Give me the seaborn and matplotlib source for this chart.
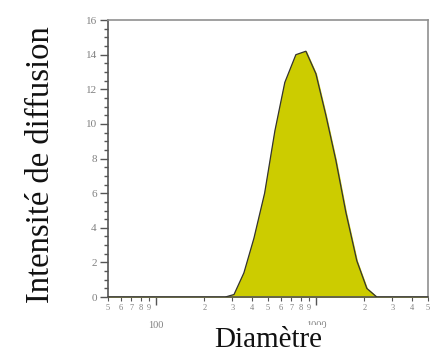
import numpy as np
import pandas as pd
import seaborn as sns
import matplotlib.pyplot as plt
from matplotlib.ticker import FixedLocator, FixedFormatter

# diamètre (nm) et intensité de diffusion
diametre = [50, 100, 200, 270, 307, 354, 409, 477, 553, 638, 748, 864,
            998, 1152, 1330, 1536, 1798, 2078, 2400, 3000, 5000]
intensite = [0, 0, 0, 0, 0.15, 1.4, 3.4, 6.0, 9.6, 12.4, 14.0, 14.2,
             12.9, 10.5, 7.9, 4.9, 2.1, 0.5, 0, 0, 0]

y_major = [0, 2, 4, 6, 8, 10, 12, 14, 16]
x_major = [100, 1000]
x_minor = [50, 60, 70, 80, 90, 200, 300, 400, 500, 600, 700, 800, 900,
           2000, 3000, 4000, 5000]
x_minor_labels = ['5', '6', '7', '8', '9', '2', '3', '4', '5', '6', '7',
                  '8', '9', '2', '3', '4', '5']

df = pd.DataFrame({'d': diametre, 'I': intensite})

sns.set_theme(style='white')
plt.rcParams['font.family'] = ['Liberation Serif', 'DejaVu Serif']

fig = plt.figure(figsize=(4.37, 3.52), dpi=100)
ax = fig.add_axes([0.247, 0.156, 0.732, 0.787])

ax.fill_between(df['d'], df['I'], 0, color='#cccc00', zorder=2)
sns.lineplot(data=df, x='d', y='I', ax=ax, color='#333333', lw=0.9, zorder=3)

ax.set_xscale('log')
ax.set_xlim(50, 5000)
ax.set_ylim(0, 16)

gris = '#808080'
for s in ax.spines.values():
    s.set_color('#909090')
    s.set_linewidth(1.2)
ax.spines['left'].set_color('#555555')
ax.spines['bottom'].set_color('#555555')

ax.yaxis.set_major_locator(FixedLocator(y_major))
ax.yaxis.set_minor_locator(FixedLocator(np.arange(0, 16.01, 0.5)))
ax.tick_params(axis='y', which='major', left=True, direction='out', length=6,
               width=1, color='#555555', labelsize=8, labelcolor=gris, pad=2)
ax.tick_params(axis='y', which='minor', left=True, direction='out', length=3,
               width=1, color='#555555')

ax.xaxis.set_major_locator(FixedLocator(x_major))
ax.xaxis.set_major_formatter(FixedFormatter(['100', '1000']))
ax.xaxis.set_minor_locator(FixedLocator(x_minor))
ax.xaxis.set_minor_formatter(FixedFormatter(x_minor_labels))
ax.tick_params(axis='x', which='major', bottom=True, direction='out', length=6,
               width=1, color='#555555', labelsize=7.5, labelcolor=gris, pad=11)
ax.tick_params(axis='x', which='minor', bottom=True, direction='out', length=3,
               width=0.8, color='#555555', labelsize=6, labelcolor=gris, pad=2)

ax.set_xlabel('Diamètre', fontsize=21, color='#111111', labelpad=-2,
              bbox=dict(facecolor='white', edgecolor='none', pad=1))
ax.set_ylabel('Intensité de diffusion', fontsize=23.5, color='#111111')
ax.yaxis.set_label_coords(-0.163, 0.477)

fig.savefig('out.png', dpi=100, facecolor='white')
